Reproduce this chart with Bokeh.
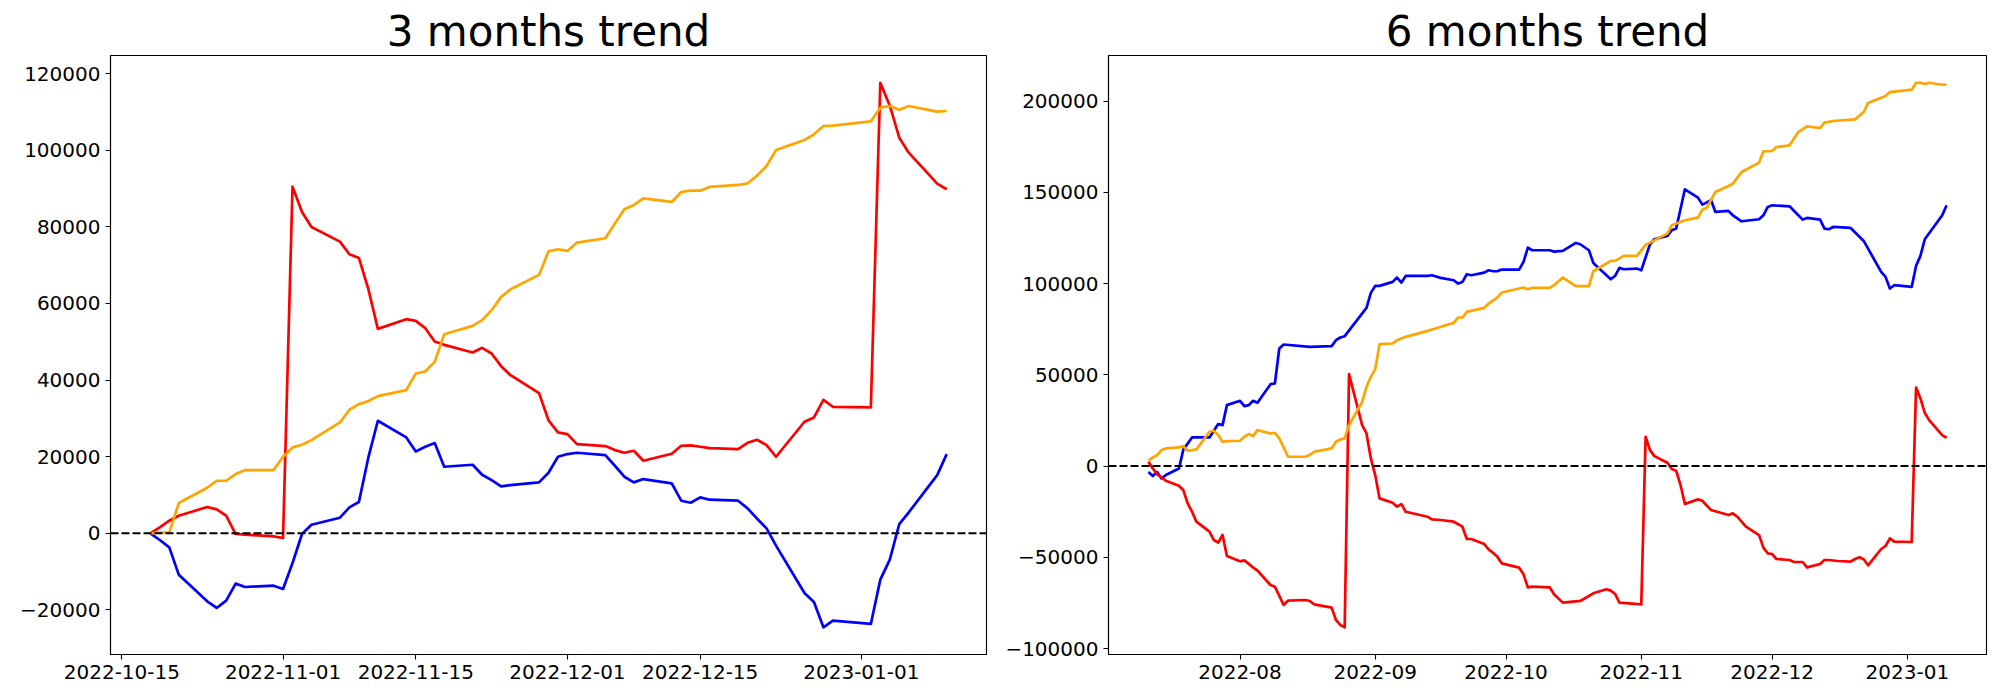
import pandas as pd
from bokeh.plotting import figure
from bokeh.layouts import row
from bokeh.models import (Span, FixedTicker, DatetimeTickFormatter,
                          CustomJSTickFormatter, Range1d)
from bokeh.embed import file_html
from bokeh.resources import INLINE

# ---------------- 3 months trend ----------------
m3_dates = ["2022-10-18", "2022-10-19", "2022-10-20", "2022-10-21", "2022-10-24", "2022-10-25",
            "2022-10-26", "2022-10-27", "2022-10-28", "2022-10-31", "2022-11-01", "2022-11-02",
            "2022-11-03", "2022-11-04", "2022-11-07", "2022-11-08", "2022-11-09", "2022-11-10",
            "2022-11-11", "2022-11-14", "2022-11-15", "2022-11-16", "2022-11-17", "2022-11-18",
            "2022-11-21", "2022-11-22", "2022-11-23", "2022-11-24", "2022-11-25", "2022-11-28",
            "2022-11-29", "2022-11-30", "2022-12-01", "2022-12-02", "2022-12-05", "2022-12-06",
            "2022-12-07", "2022-12-08", "2022-12-09", "2022-12-12", "2022-12-13", "2022-12-14",
            "2022-12-15", "2022-12-16", "2022-12-19", "2022-12-20", "2022-12-21", "2022-12-22",
            "2022-12-23", "2022-12-26", "2022-12-27", "2022-12-28", "2022-12-29", "2023-01-02",
            "2023-01-03", "2023-01-04", "2023-01-05", "2023-01-06", "2023-01-09", "2023-01-10"]
m3_blue = [0, -1738, -3650, -10778, -17730, -19470, -17560, -13125, -13995, -13650, -14515, -7736,
           -174, 2260, 4085, 6780, 8170, 19820, 29380, 25030, 21380, 22600, 23555, 17385,
           17905, 15300, 13900, 12255, 12600, 13300, 15800, 19990, 20690, 21035, 20430, 17645,
           14776, 13300, 14170, 13040, 8518, 8000, 9390, 8780, 8518, 6520, 3825, 1300,
           -3216, -15560, -17905, -24510, -22773, -23640, -12080, -6867, 2434, 5476, 15210, 20690]
m3_red = [0, 1565, 3300, 4607, 6867, 6258, 4607, -174, -348, -782, -1217, 90484,
          83878, 79966, 76142, 72840, 71884, 63713, 53370, 55890, 55455, 53543, 50066, 49197,
          47198, 48415, 46937, 43634, 41287, 36600, 29500, 26336, 25900, 23295, 22773, 21730,
          21035, 21556, 18950, 20774, 22860, 22947, 22600, 22250, 21990, 23640, 24425, 23035,
          19990, 29120, 30250, 34855, 33030, 32855, 117600, 111600, 103260, 99350, 91270, 89800]
m3_orange = [0, 174, 174, 7910, 11908, 13733, 13733, 15472, 16515, 16515, 19990, 22425,
             23120, 24340, 28945, 32250, 33725, 34510, 35810, 37375, 41720, 42245, 44764, 51978,
             54150, 55630, 58240, 61713, 63713, 67450, 73600, 74143, 73708, 75880, 77010, 80836,
             84573, 85703, 87440, 86485, 89093, 89440, 89440, 90397, 90920, 91353, 93353, 95874,
             100045, 102653, 104130, 106303, 106390, 107520, 111084, 111520, 110563, 111520, 110040, 110215]
m3_xticks = ["2022-10-15", "2022-11-01", "2022-11-15", "2022-12-01", "2022-12-15", "2023-01-01"]
m3_yticks = [-20000, 0, 20000, 40000, 60000, 80000, 100000, 120000]

# ---------------- 6 months trend ----------------
m6_blue_dates = ["2022-07-11", "2022-07-12", "2022-07-13", "2022-07-14", "2022-07-15", "2022-07-18",
                 "2022-07-19", "2022-07-21", "2022-07-25", "2022-07-27", "2022-07-28", "2022-07-29",
                 "2022-08-01", "2022-08-02", "2022-08-03", "2022-08-04", "2022-08-05", "2022-08-08",
                 "2022-08-09", "2022-08-10", "2022-08-11", "2022-08-17", "2022-08-22", "2022-08-23",
                 "2022-08-24", "2022-08-25", "2022-08-30", "2022-08-31", "2022-09-01", "2022-09-02",
                 "2022-09-05", "2022-09-06", "2022-09-07", "2022-09-08", "2022-09-13", "2022-09-14",
                 "2022-09-16", "2022-09-19", "2022-09-20", "2022-09-21", "2022-09-22", "2022-09-23",
                 "2022-09-26", "2022-09-27", "2022-09-28", "2022-09-29", "2022-09-30", "2022-10-04",
                 "2022-10-05", "2022-10-06", "2022-10-07", "2022-10-11", "2022-10-12", "2022-10-14",
                 "2022-10-17", "2022-10-18", "2022-10-20", "2022-10-21", "2022-10-25", "2022-10-26",
                 "2022-10-27", "2022-10-28", "2022-10-31", "2022-11-01", "2022-11-03", "2022-11-04",
                 "2022-11-07", "2022-11-08", "2022-11-09", "2022-11-11", "2022-11-14", "2022-11-15",
                 "2022-11-17", "2022-11-18", "2022-11-21", "2022-11-22", "2022-11-24", "2022-11-28",
                 "2022-11-29", "2022-11-30", "2022-12-01", "2022-12-05", "2022-12-07", "2022-12-08",
                 "2022-12-09", "2022-12-12", "2022-12-13", "2022-12-14", "2022-12-15", "2022-12-19",
                 "2022-12-22", "2022-12-26", "2022-12-27", "2022-12-28", "2022-12-29", "2023-01-02",
                 "2023-01-03", "2023-01-04", "2023-01-05", "2023-01-09", "2023-01-10"]
m6_blue = [-3286, -5476, -3286, -6754, -4929, -1300,
           9000, 15700, 15700, 23000, 22450, 33400,
           35780, 32860, 33400, 35780, 34680, 44900,
           45270, 64440, 66630, 65350, 65720, 69000,
           70460, 71195, 86710, 94926, 98760, 98760,
           100950, 103320, 100585, 104236, 104236, 104600,
           103140, 101860, 100040, 100950, 105150, 104600,
           106060, 107340, 106790, 106790, 107700, 107700,
           111900, 119750, 118290, 118290, 117560, 117930,
           122310, 121580, 118290, 111350, 102410, 104240,
           108620, 107890, 108250, 107340, 121580, 124320,
           126140, 129250, 130160, 151700, 147130, 143300,
           145680, 139290, 139830, 137460, 134170, 135270,
           137460, 142020, 142940, 142390, 137460, 135090,
           136000, 135090, 130160, 129790, 131070, 130520,
           123400, 106430, 103690, 97300, 99130, 98210,
           109710, 115190, 124320, 137460, 142940]

m6_red_dates = ["2022-07-11", "2022-07-12", "2022-07-13", "2022-07-15", "2022-07-18", "2022-07-19",
                "2022-07-20", "2022-07-21", "2022-07-22", "2022-07-25", "2022-07-26", "2022-07-27",
                "2022-07-28", "2022-07-29", "2022-08-01", "2022-08-02", "2022-08-04", "2022-08-05",
                "2022-08-08", "2022-08-09", "2022-08-11", "2022-08-12", "2022-08-16", "2022-08-17",
                "2022-08-18", "2022-08-22", "2022-08-23", "2022-08-24", "2022-08-25", "2022-08-26",
                "2022-08-29", "2022-08-30", "2022-08-31", "2022-09-01", "2022-09-02", "2022-09-05",
                "2022-09-06", "2022-09-07", "2022-09-08", "2022-09-13", "2022-09-14", "2022-09-16",
                "2022-09-19", "2022-09-21", "2022-09-22", "2022-09-23", "2022-09-26", "2022-09-27",
                "2022-09-28", "2022-09-29", "2022-09-30", "2022-10-04", "2022-10-05", "2022-10-06",
                "2022-10-07", "2022-10-11", "2022-10-12", "2022-10-14", "2022-10-18", "2022-10-21",
                "2022-10-24", "2022-10-25", "2022-10-26", "2022-10-27", "2022-11-01", "2022-11-02",
                "2022-11-03", "2022-11-04", "2022-11-07", "2022-11-08", "2022-11-09", "2022-11-10",
                "2022-11-11", "2022-11-14", "2022-11-15", "2022-11-17", "2022-11-21", "2022-11-22",
                "2022-11-23", "2022-11-25", "2022-11-28", "2022-11-29", "2022-11-30", "2022-12-01",
                "2022-12-02", "2022-12-05", "2022-12-06", "2022-12-08", "2022-12-09", "2022-12-12",
                "2022-12-13", "2022-12-14", "2022-12-16", "2022-12-19", "2022-12-20", "2022-12-21",
                "2022-12-22", "2022-12-23", "2022-12-26", "2022-12-27", "2022-12-28", "2022-12-29",
                "2023-01-02", "2023-01-03", "2023-01-04", "2023-01-05", "2023-01-06", "2023-01-09",
                "2023-01-10"]
m6_red = [2373, -1278, -4380, -8030, -10770, -13144,
          -20445, -25010, -30485, -35960, -40525, -41985,
          -37788, -49290, -52210, -51660, -55500, -57320,
          -65170, -66080, -76120, -73750, -73390, -73930,
          -75760, -77580, -84340, -87080, -88350, 50380,
          22450, 17890, 4200, -4930, -17710, -20080,
          -22270, -20810, -25010, -27750, -29210, -29570,
          -30490, -33220, -39980, -39980, -42720, -45640,
          -47500, -49650, -53300, -55680, -59330, -66450,
          -66080, -66450, -70290, -74850, -73930, -69740,
          -67540, -68270, -70100, -74850, -75760, 16064,
          8760, 5476, 1825, -1643, -2556, -10400,
          -20810, -18255, -18985, -24100, -26835, -25920,
          -27750, -33220, -37790, -44720, -47830, -48190,
          -50930, -51480, -52570, -52570, -55500, -53670,
          -51480, -51480, -52030, -52390, -50930, -50020,
          -51110, -54400, -45450, -43810, -39610, -41440,
          -41620, 43080, 37060, 29210, 25190, 16980,
          15520]

m6_orange_dates = ["2022-07-11", "2022-07-12", "2022-07-13", "2022-07-14", "2022-07-15", "2022-07-18",
                   "2022-07-19", "2022-07-20", "2022-07-21", "2022-07-22", "2022-07-25", "2022-07-26",
                   "2022-07-27", "2022-07-28", "2022-07-29", "2022-08-01", "2022-08-02", "2022-08-03",
                   "2022-08-04", "2022-08-05", "2022-08-08", "2022-08-09", "2022-08-10", "2022-08-11",
                   "2022-08-12", "2022-08-16", "2022-08-17", "2022-08-18", "2022-08-22", "2022-08-23",
                   "2022-08-24", "2022-08-25", "2022-08-26", "2022-08-29", "2022-08-30", "2022-08-31",
                   "2022-09-01", "2022-09-02", "2022-09-05", "2022-09-06", "2022-09-08", "2022-09-13",
                   "2022-09-14", "2022-09-19", "2022-09-20", "2022-09-21", "2022-09-22", "2022-09-26",
                   "2022-09-27", "2022-09-29", "2022-09-30", "2022-10-04", "2022-10-05", "2022-10-06",
                   "2022-10-07", "2022-10-11", "2022-10-12", "2022-10-14", "2022-10-17", "2022-10-20",
                   "2022-10-21", "2022-10-25", "2022-10-26", "2022-10-28", "2022-10-31", "2022-11-02",
                   "2022-11-07", "2022-11-08", "2022-11-11", "2022-11-14", "2022-11-15", "2022-11-16",
                   "2022-11-18", "2022-11-21", "2022-11-22", "2022-11-24", "2022-11-28", "2022-11-29",
                   "2022-12-01", "2022-12-02", "2022-12-05", "2022-12-07", "2022-12-09", "2022-12-12",
                   "2022-12-13", "2022-12-15", "2022-12-20", "2022-12-22", "2022-12-23", "2022-12-27",
                   "2022-12-28", "2023-01-02", "2023-01-03", "2023-01-04", "2023-01-05", "2023-01-06",
                   "2023-01-09", "2023-01-10"]
m6_orange = [2920, 4746, 6024, 8760, 9675, 10220,
             10950, 8400, 8760, 9128, 18800, 19350,
             16980, 13330, 13690, 13870, 16065, 17525,
             16430, 19715, 17890, 18255, 15150, 10220,
             5110, 5110, 6024, 7850, 9675, 13330,
             14600, 15150, 22450, 35230, 43450, 48920,
             53120, 66810, 67180, 69000, 70830, 74115,
             74850, 78500, 81420, 81420, 84520, 86710,
             89080, 92370, 95110, 97300, 97850, 96935,
             97670, 97670, 99130, 103330, 98580, 98580,
             106790, 112450, 112450, 115190, 115190, 121210,
             127420, 131980, 134720, 136180, 140560, 141480,
             150240, 153530, 154800, 161190, 166300, 172510,
             172690, 174880, 175800, 183090, 186200, 185290,
             188210, 189120, 190040, 194050, 198980, 202815,
             205000, 206280, 210110, 210110, 209380, 210110,
             209020, 209020]
m6_xticks = ["2022-08-01", "2022-09-01", "2022-10-01", "2022-11-01", "2022-12-01", "2023-01-01"]
m6_yticks = [-100000, -50000, 0, 50000, 100000, 150000, 200000]

BLUE, RED, ORANGE = "#0000ff", "#ff0000", "#ffa500"
FONT = "DejaVu Sans"
FIG_H = 692


def ms(s):
    return pd.Timestamp(s).value / 1e6


def pad(lo, hi, frac=0.05):
    d = (hi - lo) * frac
    return lo - d, hi + d


def make_panel(title, series, xticks, yticks, xfmt, width, bl, br):
    all_x = [ms(d) for dates, _, _ in series for d in dates]
    all_y = [v for _, vals, _ in series for v in vals]
    x0, x1 = pad(min(all_x), max(all_x))
    y0, y1 = pad(min(all_y), max(all_y))
    p = figure(width=width, height=FIG_H, x_axis_type="datetime",
               x_range=Range1d(x0, x1), y_range=Range1d(y0, y1),
               output_backend="svg", toolbar_location=None,
               min_border_left=bl, min_border_right=br,
               min_border_top=55, min_border_bottom=FIG_H - 654,
               title=title)
    p.title.text_font = FONT
    p.title.text_font_size = "42px"
    p.title.text_font_style = "normal"
    p.title.text_color = "black"
    p.title.align = "center"
    p.title.standoff = 0
    p.grid.visible = False
    p.outline_line_color = "black"
    p.outline_line_width = 1.1
    p.background_fill_color = "white"
    p.border_fill_color = "white"
    for dates, vals, color in series:
        p.line([pd.Timestamp(d) for d in dates], vals, line_color=color,
               line_width=2.7, line_join="round")
    p.add_layout(Span(location=0, dimension="width", line_color="black",
                      line_width=2, line_dash="8 3"))
    p.xaxis.ticker = FixedTicker(ticks=[ms(t) for t in xticks])
    p.xaxis.formatter = DatetimeTickFormatter(
        milliseconds=xfmt, seconds=xfmt, minsec=xfmt, minutes=xfmt, hourmin=xfmt,
        hours=xfmt, days=xfmt, months=xfmt, years=xfmt)
    p.yaxis.ticker = FixedTicker(ticks=yticks)
    p.yaxis.formatter = CustomJSTickFormatter(
        code="return tick < 0 ? '\u2212' + Math.abs(tick).toFixed(0) : tick.toFixed(0);")
    for ax in (p.xaxis, p.yaxis):
        ax.major_label_text_font = FONT
        ax.major_label_text_font_size = "20px"
        ax.major_label_text_color = "black"
        ax.major_tick_in = 0
        ax.major_tick_out = 5
        ax.major_tick_line_color = "black"
        ax.major_tick_line_width = 1.1
        ax.minor_tick_line_color = None
        ax.axis_line_color = "black"
        ax.axis_line_width = 1.1
        ax.major_label_standoff = 5
    return p


p1 = make_panel("3 months trend",
                [(m3_dates, m3_blue, BLUE), (m3_dates, m3_red, RED), (m3_dates, m3_orange, ORANGE)],
                m3_xticks, m3_yticks, "%Y-%m-%d", 1000, 110, 14)
p2 = make_panel("6 months trend",
                [(m6_blue_dates, m6_blue, BLUE), (m6_red_dates, m6_red, RED),
                 (m6_orange_dates, m6_orange, ORANGE)],
                m6_xticks, m6_yticks, "%Y-%m", 992, 108, 6)

layout = row(p1, p2)
open("out.html", "w").write(file_html(layout, INLINE))
